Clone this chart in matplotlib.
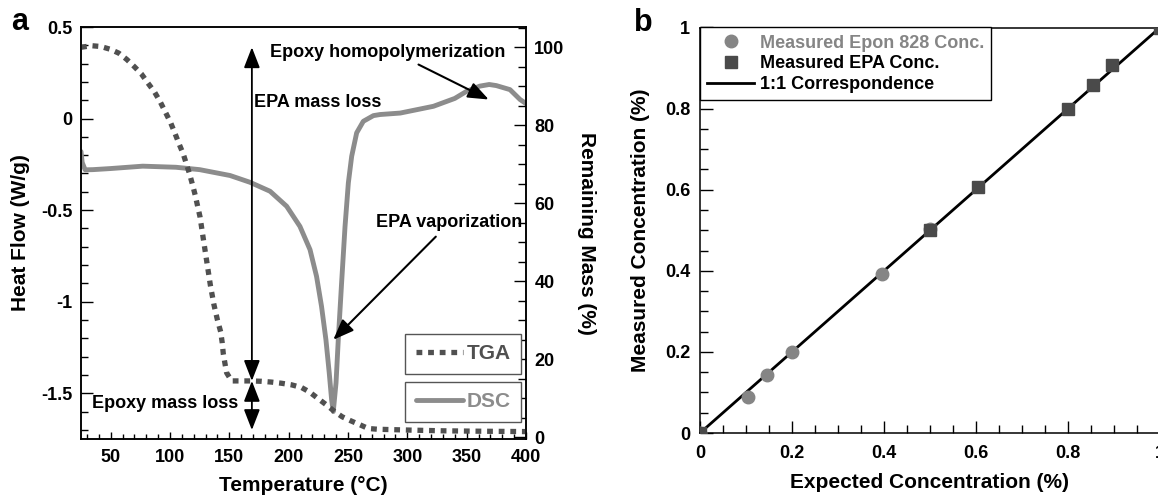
import matplotlib
matplotlib.use('Agg')
import matplotlib.pyplot as plt
from matplotlib.ticker import MultipleLocator, FuncFormatter

plt.rcParams['font.family'] = ['Liberation Sans', 'DejaVu Sans']
plt.rcParams['font.weight'] = 'bold'
plt.rcParams['axes.labelweight'] = 'bold'
plt.rcParams['axes.unicode_minus'] = False

# panel a: DSC heat flow (W/g)
dsc_T = [25, 26, 28.5, 35, 50, 77, 105, 125, 150.6, 167.4, 184.3, 198.3, 209.5, 218,
         223.5, 227.7, 231.4, 234.2, 236.2, 237.6, 239.9, 241.8, 244.6, 247.5, 250.3,
         253.1, 257.3, 262.9, 271.4, 277, 294, 322, 340, 350, 361, 369, 375, 386.5, 395, 400]
dsc_hf = [-0.18, -0.24, -0.28, -0.279, -0.273, -0.26, -0.266, -0.279, -0.311, -0.348,
          -0.397, -0.479, -0.589, -0.716, -0.862, -1.026, -1.208, -1.39, -1.536, -1.6,
          -1.444, -1.208, -0.898, -0.589, -0.351, -0.206, -0.078, -0.015, 0.016, 0.022,
          0.03, 0.067, 0.11, 0.149, 0.177, 0.186, 0.18, 0.158, 0.104, 0.082]

# panel a: TGA remaining mass (%)
tga_T = [25, 34, 41.6, 49.5, 56.8, 63.5, 69.7, 75.8, 81.2, 86.8, 91.6, 96.4, 100.6, 104.2,
         107.8, 111.2, 114, 116.6, 119, 121.3, 123.3, 125.3, 128, 131, 134, 137, 140,
         142.7, 144, 144.9, 146.3, 147.7, 151.9, 160.3, 168.7, 177.2, 185.6, 194, 202.4,
         210.9, 217.9, 225.5, 232.5, 238.9, 245.1, 252.1, 259.7, 267, 275, 300, 330, 360, 400]
tga_mass = [100, 100.4, 100.2, 99.5, 98.5, 96.9, 95.1, 93.2, 90.9, 88.6, 86.1, 83.2, 80.6,
            77.9, 75.1, 72.6, 69.9, 67.4, 64.7, 62, 59.2, 56.5, 51, 45, 39, 34, 30,
            27, 24.2, 21.4, 18.9, 16.5, 14.4, 14.4, 14.4, 14.3, 14.1, 13.8, 13.4,
            12.7, 11.5, 9.7, 8.1, 6.5, 5.2, 4.2, 3.2, 2.2, 2.0, 1.8, 1.6, 1.5, 1.4]

# panel b
epon_expected = [0, 0.105, 0.145, 0.2, 0.395, 0.5]
epon_measured = [0, 0.09, 0.143, 0.2, 0.393, 0.502]
epa_expected = [0, 0.5, 0.605, 0.8, 0.855, 0.895, 1.0]
epa_measured = [0, 0.5, 0.606, 0.8, 0.857, 0.908, 1.0]
one_to_one = [0, 1]

dsc_col = '#8c8c8c'
tga_col = '#505050'

fig = plt.figure(figsize=(11.58, 4.96), dpi=100)

# ---- panel a ----
ax1 = fig.add_axes([81/1158, 57/496, 445/1158, 412/496])
ax2 = ax1.twinx()

dsc_line, = ax1.plot(dsc_T, dsc_hf, color=dsc_col, lw=3.5, solid_capstyle='round',
                     solid_joinstyle='round')
tga_line, = ax2.plot(tga_T, tga_mass, color=tga_col, lw=3.8, linestyle=(0, (1.1, 1.1)),
                     dash_capstyle='butt')

ax1.set_xlim(25, 400)
ax1.set_ylim(-1.75, 0.5)
ax2.set_ylim(-0.5, 105.2)

ax1.xaxis.set_major_locator(MultipleLocator(50))
ax1.xaxis.set_minor_locator(MultipleLocator(10))
ax1.yaxis.set_major_locator(MultipleLocator(0.5))
ax1.yaxis.set_minor_locator(MultipleLocator(0.1))
ax2.yaxis.set_major_locator(MultipleLocator(20))
ax2.yaxis.set_minor_locator(MultipleLocator(5))
ax1.yaxis.set_major_formatter(FuncFormatter(lambda v, p: '%g' % v))

ax1.tick_params(axis='y', which='major', direction='in', length=8.6, width=1, labelsize=13, pad=6)
ax1.tick_params(axis='y', which='minor', direction='in', length=5, width=1)
ax1.tick_params(axis='x', which='major', direction='in', length=5, width=1, labelsize=13, pad=7)
ax1.tick_params(axis='x', which='minor', direction='in', length=3.5, width=1)
ax2.tick_params(axis='y', which='major', direction='in', length=9, width=1, labelsize=13, pad=6)
ax2.tick_params(axis='y', which='minor', direction='in', length=5.5, width=1)
for ax in (ax1, ax2):
    for s in ax.spines.values():
        s.set_linewidth(1.1)

ax1.set_xlabel('Temperature (°C)', fontsize=15)
ax1.set_ylabel('Heat Flow (W/g)', fontsize=15)
ax2.set_ylabel('Remaining Mass (%)', fontsize=15, rotation=270)
ax1.xaxis.set_label_coords(0.5, -0.114)
ax1.xaxis.label.set_va('center')
ax1.yaxis.set_label_coords(-0.137, 0.5)
ax1.yaxis.label.set_va('center')
ax2.yaxis.set_label_coords(1.135, 0.5)
ax2.yaxis.label.set_va('center')

# mass loss arrows
arr = dict(arrowstyle='<|-|>,head_length=0.9,head_width=0.35', mutation_scale=14,
           color='black', lw=1.3, shrinkA=0, shrinkB=0)
ax2.annotate('', xy=(169, 100), xytext=(169, 14.4), arrowprops=arr)
ax2.annotate('', xy=(169, 1.8), xytext=(169, 14.4), arrowprops=arr)
ax1.text(171, 0.087, 'EPA mass loss', fontsize=13, ha='left', va='center')
ax1.text(34, -1.557, 'Epoxy mass loss', fontsize=13, ha='left', va='center')

sarr = dict(arrowstyle='-|>,head_length=0.9,head_width=0.35', mutation_scale=14,
            color='black', lw=1.5, shrinkA=0, shrinkB=0)
ax1.text(184.3, 0.36, 'Epoxy homopolymerization', fontsize=13, ha='left', va='center')
ax1.annotate('', xy=(368.6, 0.104), xytext=(309.4, 0.295), arrowprops=sarr)
ax1.text(397, -0.57, 'EPA vaporization', fontsize=13, ha='right', va='center')
ax1.annotate('', xy=(237.6, -1.208), xytext=(324, -0.645), arrowprops=sarr)

leg_kw = dict(loc='lower right', borderaxespad=0, frameon=True, fancybox=False,
              edgecolor='#555555', framealpha=1, handlelength=2.3, handletextpad=0.15,
              borderpad=0.5, prop=dict(size=15, weight='bold'), labelcolor='linecolor')
leg1 = ax2.legend([tga_line], ['TGA'], bbox_to_anchor=(0.989, 0.158), **leg_kw)
leg1.get_frame().set_linewidth(1)
ax2.add_artist(leg1)
leg2 = ax2.legend([dsc_line], ['DSC'], bbox_to_anchor=(0.989, 0.042), **leg_kw)
leg2.get_frame().set_linewidth(1)

fig.text(20/1158, 1 - 22/496, 'a', fontsize=22, ha='center', va='center')

# ---- panel b ----
ax3 = fig.add_axes([700/1158, 63/496, 460/1158, 405.5/496])
ax3.plot(epon_expected, epon_measured, 'o', color='#858585', ms=9, mec='#858585',
         label='Measured Epon 828 Conc.', zorder=3)
ax3.plot(epa_expected, epa_measured, 's', color='#4a4a4a', ms=8, mec='#4a4a4a',
         label='Measured EPA Conc.', zorder=4)
ax3.plot(one_to_one, one_to_one, '-', color='black', lw=2, label='1:1 Correspondence', zorder=2)

ax3.set_xlim(0, 1)
ax3.set_ylim(0, 1)
ax3.xaxis.set_major_locator(MultipleLocator(0.2))
ax3.xaxis.set_minor_locator(MultipleLocator(0.05))
ax3.yaxis.set_major_locator(MultipleLocator(0.2))
ax3.yaxis.set_minor_locator(MultipleLocator(0.05))
fmt = FuncFormatter(lambda v, p: '%g' % round(v, 2))
ax3.xaxis.set_major_formatter(fmt)
ax3.yaxis.set_major_formatter(fmt)
ax3.tick_params(which='major', direction='in', length=9, width=1, labelsize=13, pad=7)
ax3.tick_params(axis='x', which='major', pad=8.5)
ax3.tick_params(which='minor', direction='in', length=5.5, width=1)
for s in ax3.spines.values():
    s.set_linewidth(1.1)

ax3.set_xlabel('Expected Concentration (%)', fontsize=15)
ax3.set_ylabel('Measured Concentration (%)', fontsize=15)
ax3.xaxis.set_label_coords(0.5, -0.123)
ax3.xaxis.label.set_va('center')
ax3.yaxis.set_label_coords(-0.13, 0.5)
ax3.yaxis.label.set_va('center')

leg3 = ax3.legend(loc='upper left', bbox_to_anchor=(0, 1), borderaxespad=0, frameon=True,
                  fancybox=False, edgecolor='black', framealpha=1, handlelength=2.6,
                  handletextpad=0.3, labelspacing=0.2, borderpad=0.4,
                  prop=dict(size=13, weight='bold'),
                  labelcolor=['#858585', 'black', 'black'])
leg3.get_frame().set_linewidth(1)

fig.text(643/1158, 1 - 23/496, 'b', fontsize=22, ha='center', va='center')

fig.savefig('out.png', dpi=100)
